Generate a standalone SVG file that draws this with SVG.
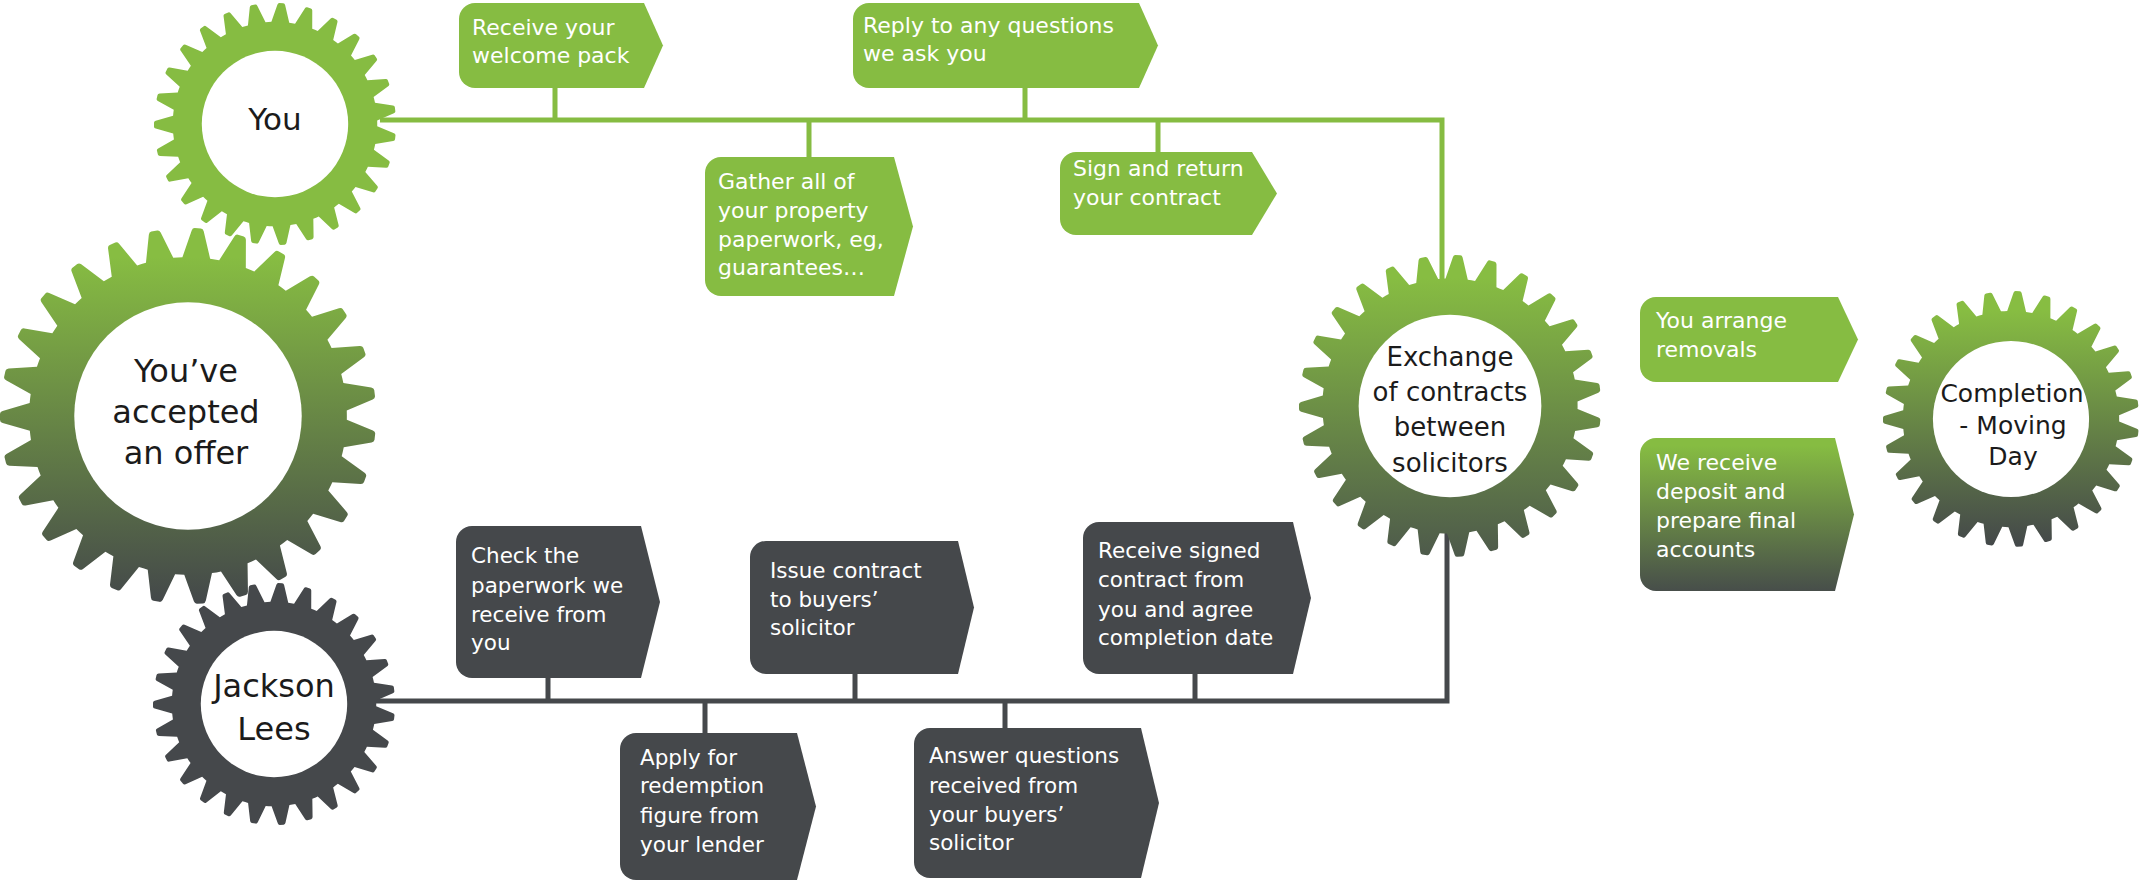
<svg xmlns="http://www.w3.org/2000/svg" width="2139" height="883" viewBox="0 0 2139 883">
<defs>
<style>
.gt{font-family:"DejaVu Sans",sans-serif;fill:#1b1b1b;text-anchor:middle}
.bt{font-family:"DejaVu Sans",sans-serif;fill:#ffffff;font-size:22px}
.bt1{font-family:"DejaVu Sans",sans-serif;fill:#ffffff;font-size:21.5px}
.bt2{font-family:"DejaVu Sans",sans-serif;fill:#ffffff;font-size:22px}
.green{fill:#86BC42}
.dark{fill:#45484B}
.lg{stroke:#86BC42;stroke-width:5;fill:none}
.ld{stroke:#45484B;stroke-width:5;fill:none}
.hole{fill:#ffffff}
</style>
<linearGradient id="gGrad" x1="0" y1="0" x2="0" y2="1">
<stop offset="0.08" stop-color="#87BD42"/>
<stop offset="1" stop-color="#43474A"/>
</linearGradient>
<linearGradient id="gGrad2" x1="0" y1="0" x2="0" y2="1">
<stop offset="0.08" stop-color="#87BD42"/>
<stop offset="1" stop-color="#4D594B"/>
</linearGradient>
<linearGradient id="bGrad" x1="0" y1="0" x2="0" y2="1">
<stop offset="0.05" stop-color="#86BC42"/>
<stop offset="1" stop-color="#474E4A"/>
</linearGradient>
<path id="tooth" d="M-8.6 -80 L-3.2 -98.6 Q-2.8 -100 -1.6 -100 L1.6 -100 Q2.8 -100 3.2 -98.6 L8.6 -80 Z"/>
<clipPath id="gearClip">
<circle r="84.5"/>
<use href="#tooth" transform="rotate(3)"/>
<use href="#tooth" transform="rotate(16.333)"/>
<use href="#tooth" transform="rotate(29.667)"/>
<use href="#tooth" transform="rotate(43)"/>
<use href="#tooth" transform="rotate(56.333)"/>
<use href="#tooth" transform="rotate(69.667)"/>
<use href="#tooth" transform="rotate(83)"/>
<use href="#tooth" transform="rotate(96.333)"/>
<use href="#tooth" transform="rotate(109.667)"/>
<use href="#tooth" transform="rotate(123)"/>
<use href="#tooth" transform="rotate(136.333)"/>
<use href="#tooth" transform="rotate(149.667)"/>
<use href="#tooth" transform="rotate(163)"/>
<use href="#tooth" transform="rotate(176.333)"/>
<use href="#tooth" transform="rotate(189.667)"/>
<use href="#tooth" transform="rotate(203)"/>
<use href="#tooth" transform="rotate(216.333)"/>
<use href="#tooth" transform="rotate(229.667)"/>
<use href="#tooth" transform="rotate(243)"/>
<use href="#tooth" transform="rotate(256.333)"/>
<use href="#tooth" transform="rotate(269.667)"/>
<use href="#tooth" transform="rotate(283)"/>
<use href="#tooth" transform="rotate(296.333)"/>
<use href="#tooth" transform="rotate(309.667)"/>
<use href="#tooth" transform="rotate(323)"/>
<use href="#tooth" transform="rotate(336.333)"/>
<use href="#tooth" transform="rotate(349.667)"/>
</clipPath>
</defs>

<g id="connectors">
<path class="lg" d="M380 120 H1442 V290"/>
<path class="lg" d="M555 88 V120 M1025 88 V120 M809 120 V157 M1158 120 V152"/>
<path class="ld" d="M375 701 H1447 V525"/>
<path class="ld" d="M548 678 V701 M855 674 V701 M1195 674 V701 M705 701 V733 M1005 701 V728"/>
</g>

<g id="gear-you">
<g transform="translate(275 124) scale(1.21)">
<rect x="-101" y="-101" width="202" height="202" class="green" clip-path="url(#gearClip)"/>
<circle r="60.5" class="hole"/>
</g>
<text class="gt" x="275" y="130" font-size="31">You</text>
</g>

<g id="gear-offer">
<g transform="translate(188 416) scale(1.88)">
<rect x="-101" y="-101" width="202" height="202" fill="url(#gGrad)" clip-path="url(#gearClip)"/>
<circle r="60.5" class="hole"/>
</g>
<text class="gt" font-size="32"><tspan x="186" y="382">You’ve</tspan><tspan x="186" y="423">accepted</tspan><tspan x="186" y="464">an offer</tspan></text>
</g>

<g id="gear-jackson">
<g transform="translate(274 704) scale(1.21)">
<rect x="-101" y="-101" width="202" height="202" class="dark" clip-path="url(#gearClip)"/>
<circle r="60.5" class="hole"/>
</g>
<text class="gt" font-size="32"><tspan x="274" y="697">Jackson</tspan><tspan x="274" y="740">Lees</tspan></text>
</g>

<g id="gear-exchange">
<g transform="translate(1450 406) scale(1.51)">
<rect x="-101" y="-101" width="202" height="202" fill="url(#gGrad2)" clip-path="url(#gearClip)"/>
<circle r="60.5" class="hole"/>
</g>
<text class="gt" font-size="26"><tspan x="1450" y="366">Exchange</tspan><tspan x="1450" y="401">of contracts</tspan><tspan x="1450" y="436">between</tspan><tspan x="1450" y="472">solicitors</tspan></text>
</g>

<g id="gear-completion">
<g transform="translate(2011 419) scale(1.28)">
<rect x="-101" y="-101" width="202" height="202" fill="url(#gGrad)" clip-path="url(#gearClip)"/>
<circle r="61" class="hole"/>
</g>
<text class="gt" font-size="25"><tspan x="2012" y="402">Completion</tspan><tspan x="2013" y="434">- Moving</tspan><tspan x="2013" y="465">Day</tspan></text>
</g>

<g id="step-welcome">
<path class="green" d="M475 3 H644 L663 45.5 L644 88 H475 A16 16 0 0 1 459 72 V19 A16 16 0 0 1 475 3 Z"/>
<text class="bt"><tspan x="472" y="35">Receive your</tspan><tspan x="472" y="63">welcome pack</tspan></text>
</g>

<g id="step-reply">
<path class="green" d="M869 3 H1139 L1158 45.5 L1139 88 H869 A16 16 0 0 1 853 72 V19 A16 16 0 0 1 869 3 Z"/>
<text class="bt"><tspan x="863" y="33">Reply to any questions</tspan><tspan x="863" y="61">we ask you</tspan></text>
</g>

<g id="step-gather">
<path class="green" d="M721 157 H894 L913 226.5 L894 296 H721 A16 16 0 0 1 705 280 V173 A16 16 0 0 1 721 157 Z"/>
<text class="bt"><tspan x="718" y="189">Gather all of</tspan><tspan x="718" y="218">your property</tspan><tspan x="718" y="247">paperwork, eg,</tspan><tspan x="718" y="275">guarantees…</tspan></text>
</g>

<g id="step-sign">
<path class="green" d="M1076 152 H1252 L1277 193.5 L1252 235 H1076 A16 16 0 0 1 1060 219 V168 A16 16 0 0 1 1076 152 Z"/>
<text class="bt"><tspan x="1073" y="176">Sign and return</tspan><tspan x="1073" y="205">your contract</tspan></text>
</g>

<g id="step-check">
<path class="dark" d="M472 526 H641 L660 602 L641 678 H472 A16 16 0 0 1 456 662 V542 A16 16 0 0 1 472 526 Z"/>
<text class="bt1"><tspan x="471" y="563">Check the</tspan><tspan x="471" y="593">paperwork we</tspan><tspan x="471" y="622">receive from</tspan><tspan x="471" y="650">you</tspan></text>
</g>

<g id="step-issue">
<path class="dark" d="M766 541 H958 L974 607.5 L958 674 H766 A16 16 0 0 1 750 658 V557 A16 16 0 0 1 766 541 Z"/>
<text class="bt1"><tspan x="770" y="578">Issue contract</tspan><tspan x="770" y="607">to buyers’</tspan><tspan x="770" y="635">solicitor</tspan></text>
</g>

<g id="step-signed">
<path class="dark" d="M1099 522 H1293 L1311 598 L1293 674 H1099 A16 16 0 0 1 1083 658 V538 A16 16 0 0 1 1099 522 Z"/>
<text class="bt1"><tspan x="1098" y="558">Receive signed</tspan><tspan x="1098" y="587">contract from</tspan><tspan x="1098" y="617">you and agree</tspan><tspan x="1098" y="645">completion date</tspan></text>
</g>

<g id="step-apply">
<path class="dark" d="M636 733 H797 L816 806.5 L797 880 H636 A16 16 0 0 1 620 864 V749 A16 16 0 0 1 636 733 Z"/>
<text class="bt1"><tspan x="640" y="765">Apply for</tspan><tspan x="640" y="793">redemption</tspan><tspan x="640" y="823">figure from</tspan><tspan x="640" y="852">your lender</tspan></text>
</g>

<g id="step-answer">
<path class="dark" d="M930 728 H1141 L1159 803 L1141 878 H930 A16 16 0 0 1 914 862 V744 A16 16 0 0 1 930 728 Z"/>
<text class="bt1"><tspan x="929" y="763">Answer questions</tspan><tspan x="929" y="793">received from</tspan><tspan x="929" y="822">your buyers’</tspan><tspan x="929" y="850">solicitor</tspan></text>
</g>

<g id="step-removals">
<path class="green" d="M1656 297 H1838 L1858 339.5 L1838 382 H1656 A16 16 0 0 1 1640 366 V313 A16 16 0 0 1 1656 297 Z"/>
<text class="bt2"><tspan x="1656" y="328">You arrange</tspan><tspan x="1656" y="357">removals</tspan></text>
</g>

<g id="step-deposit">
<path fill="url(#bGrad)" d="M1656 438 H1835 L1854 514.5 L1835 591 H1656 A16 16 0 0 1 1640 575 V454 A16 16 0 0 1 1656 438 Z"/>
<text class="bt2"><tspan x="1656" y="470">We receive</tspan><tspan x="1656" y="499">deposit and</tspan><tspan x="1656" y="528">prepare final</tspan><tspan x="1656" y="557">accounts</tspan></text>
</g>
</svg>
